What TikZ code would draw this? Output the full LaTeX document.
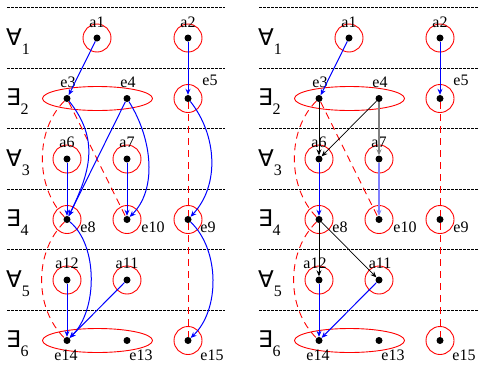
\documentclass[tikz,border=0pt]{standalone}
\usepackage{fontspec}
\setmainfont{Liberation Serif}
\newfontfamily\qfont{DejaVu Sans}
\usetikzlibrary{arrows.meta, shapes.geometric}

\begin{document}
\begin{tikzpicture}[x=1pt, y=-1pt,
          vtx/.style={
              circle,
              fill=black,
              inner sep=0pt,
              minimum size=7pt
            },
          ringed/.style={
              vtx,
              label={[circle, draw=red, line width=0.9pt, minimum size=28pt, inner sep=0pt]center:}
            },
          pair/.style={
              ellipse,
              draw=red,
              line width=0.9pt,
              minimum width=110pt,
              minimum height=24pt,
              inner sep=0pt
            },
          lbl/.style={font=\fontsize{16}{18}\selectfont, inner sep=0pt},
          quant/.style={font=\fontsize{16}{18}\selectfont, inner sep=0pt, anchor=base west},
          level/.style={black, line width=1.2pt, dash pattern=on 3pt off 1pt},
          arr/.style={-{Stealth[length=6pt, width=5pt]}, blue, line width=1pt},
          pale/.style={-{Stealth[length=6pt, width=5pt]}, blue!50, line width=2.2pt},
          grey/.style={-{Stealth[length=6pt, width=5pt]}, gray, line width=2pt},
          blk/.style={-{Stealth[length=6pt, width=5pt]}, black, line width=0.7pt},
          link/.style={red, line width=0.9pt, dash pattern=on 7pt off 5pt}
        ]
        \useasboundingbox (0,0) rectangle (479,370);

        % left panel
        \draw[level] (7,7.7) -- (225,7.7);
        \draw[level] (7,68.3) -- (225,68.3);
        \draw[level] (7,128.8) -- (225,128.8);
        \draw[level] (7,189.3) -- (225,189.3);
        \draw[level] (7,249.8) -- (225,249.8);
        \draw[level] (7,310.4) -- (225,310.4);

        \node[quant] (lq1) at (6,45) {{\qfont\fontsize{23}{26}\selectfont ∀}\raisebox{-9pt}{1}};
        \node[quant] (lq2) at (6,105.5) {{\qfont\fontsize{23}{26}\selectfont ∃}\raisebox{-9pt}{2}};
        \node[quant] (lq3) at (6,166) {{\qfont\fontsize{23}{26}\selectfont ∀}\raisebox{-9pt}{3}};
        \node[quant] (lq4) at (6,226.5) {{\qfont\fontsize{23}{26}\selectfont ∃}\raisebox{-9pt}{4}};
        \node[quant] (lq5) at (6,287) {{\qfont\fontsize{23}{26}\selectfont ∀}\raisebox{-9pt}{5}};
        \node[quant] (lq6) at (6,347.5) {{\qfont\fontsize{23}{26}\selectfont ∃}\raisebox{-9pt}{6}};

        \node[pair] (lg2) at (97.5,98.5) {};
        \node[pair] (lg6) at (97.5,340.5) {};

        \node[ringed] (la1) at (97,38) {};
        \node[ringed] (la2) at (188,38) {};
        \node[vtx] (le3) at (67,98.5) {};
        \node[vtx] (le4) at (127,98.5) {};
        \node[ringed] (le5) at (188,98.5) {};
        \node[ringed] (la6) at (67,159) {};
        \node[ringed] (la7) at (127,159) {};
        \node[ringed] (le8) at (67,219.5) {};
        \node[ringed] (le10) at (127,219.5) {};
        \node[ringed] (le9) at (188,219.5) {};
        \node[ringed] (la12) at (67,280) {};
        \node[ringed] (la11) at (127,280) {};
        \node[vtx] (le14) at (67,340.5) {};
        \node[vtx] (le13) at (127,340.5) {};
        \node[ringed] (le15) at (188,340.5) {};

        \node[lbl] (tla1) at (97,22) {a1};
        \node[lbl] (tla2) at (188,22) {a2};
        \node[lbl] (tle3) at (68,82) {e3};
        \node[lbl] (tle4) at (128,82) {e4};
        \node[lbl] (tle5) at (210,80) {e5};
        \node[lbl] (tla6) at (67,142.5) {a6};
        \node[lbl] (tla7) at (127,142.5) {a7};
        \node[lbl] (tle8) at (88,227) {e8};
        \node[lbl] (tle10) at (153,227) {e10};
        \node[lbl] (tle9) at (208,227) {e9};
        \node[lbl] (tla12) at (67,263) {a12};
        \node[lbl] (tla11) at (127,263) {a11};
        \node[lbl] (tle14) at (66,355) {e14};
        \node[lbl] (tle13) at (141,355) {e13};
        \node[lbl] (tle15) at (212,355) {e15};

        \draw[link] (le3) .. controls (35,130) and (35,187) .. (le8);
        \draw[link] (le8) .. controls (34,252) and (34,308) .. (le14);
        \draw[link] (le3) -- (le10);
        \draw[link] (le5) -- (le9) -- (le15);

        \draw[arr] (la1) -- (le3);
        \draw[arr] (la2) -- (le5);
        \draw[arr] (le3) .. controls (100,140) and (90,172) .. (le8);
        \draw[arr] (le4) -- (le8);
        \draw[arr] (le4) .. controls (153,140) and (157,190) .. (le10);
        \draw[arr] (le5) .. controls (217,135) and (220,185) .. (le9);
        \draw[arr] (la6) -- (le8);
        \draw[arr] (la7) -- (le10);
        \draw[arr] (le8) .. controls (98,245) and (98,310) .. (le14);
        \draw[arr] (le9) .. controls (220,250) and (220,310) .. (le15);
        \draw[arr] (la12) -- (le14);
        \draw[arr] (la11) -- (le14);

        % right panel
        \draw[level] (259,7.7) -- (478,7.7);
        \draw[level] (259,68.3) -- (478,68.3);
        \draw[level] (259,128.8) -- (478,128.8);
        \draw[level] (259,189.3) -- (478,189.3);
        \draw[level] (259,249.8) -- (478,249.8);
        \draw[level] (259,310.4) -- (478,310.4);

        \node[quant] (rq1) at (258,45) {{\qfont\fontsize{23}{26}\selectfont ∀}\raisebox{-9pt}{1}};
        \node[quant] (rq2) at (258,105.5) {{\qfont\fontsize{23}{26}\selectfont ∃}\raisebox{-9pt}{2}};
        \node[quant] (rq3) at (258,166) {{\qfont\fontsize{23}{26}\selectfont ∀}\raisebox{-9pt}{3}};
        \node[quant] (rq4) at (258,226.5) {{\qfont\fontsize{23}{26}\selectfont ∃}\raisebox{-9pt}{4}};
        \node[quant] (rq5) at (258,287) {{\qfont\fontsize{23}{26}\selectfont ∀}\raisebox{-9pt}{5}};
        \node[quant] (rq6) at (258,347.5) {{\qfont\fontsize{23}{26}\selectfont ∃}\raisebox{-9pt}{6}};

        \node[pair] (rg2) at (349.5,98.5) {};
        \node[pair] (rg6) at (349.5,340.5) {};

        \node[ringed] (ra1) at (349,38) {};
        \node[ringed] (ra2) at (440,38) {};
        \node[vtx] (re3) at (319,98.5) {};
        \node[vtx] (re4) at (379,98.5) {};
        \node[ringed] (re5) at (440,98.5) {};
        \node[ringed] (ra6) at (319,159) {};
        \node[ringed] (ra7) at (379,159) {};
        \node[ringed] (re8) at (319,219.5) {};
        \node[ringed] (re10) at (379,219.5) {};
        \node[ringed] (re9) at (440,219.5) {};
        \node[ringed] (ra12) at (319,280) {};
        \node[ringed] (ra11) at (379,280) {};
        \node[vtx] (re14) at (319,340.5) {};
        \node[vtx] (re13) at (379,340.5) {};
        \node[ringed] (re15) at (440,340.5) {};

        \node[lbl] (tra1) at (349,22) {a1};
        \node[lbl] (tra2) at (440,22) {a2};
        \node[lbl] (tre3) at (320,82) {e3};
        \node[lbl] (tre4) at (380,82) {e4};
        \node[lbl] (tre5) at (461,80) {e5};
        \node[lbl] (tra6) at (319,142.5) {a6};
        \node[lbl] (tra7) at (379,142.5) {a7};
        \node[lbl] (tre8) at (340,227) {e8};
        \node[lbl] (tre10) at (405,227) {e10};
        \node[lbl] (tre9) at (461,227) {e9};
        \node[lbl] (tra12) at (315,263) {a12};
        \node[lbl] (tra11) at (380,263) {a11};
        \node[lbl] (tre14) at (318,355) {e14};
        \node[lbl] (tre13) at (393,355) {e13};
        \node[lbl] (tre15) at (464,355) {e15};

        \draw[link] (re3) .. controls (287,130) and (287,187) .. (re8);
        \draw[link] (re8) .. controls (286,252) and (286,308) .. (re14);
        \draw[link] (re3) -- (re10);
        \draw[link] (re5) -- (re9) -- (re15);

        \draw[arr] (ra1) -- (re3);
        \draw[arr] (ra2) -- (re5);
        \draw[blk] (re3) -- (ra6);
        \draw[blk] (re4) -- (ra6);
        \draw[grey] (re4) -- (ra7);
        \draw[arr] (ra6) -- (re8);
        \draw[pale] (ra7) -- (re10);
        \draw[blk] (re8) -- (ra12);
        \draw[blk] (re8) -- (ra11);
        \draw[arr] (ra12) -- (re14);
        \draw[arr] (ra11) -- (re14);
      \end{tikzpicture}
\end{document}
